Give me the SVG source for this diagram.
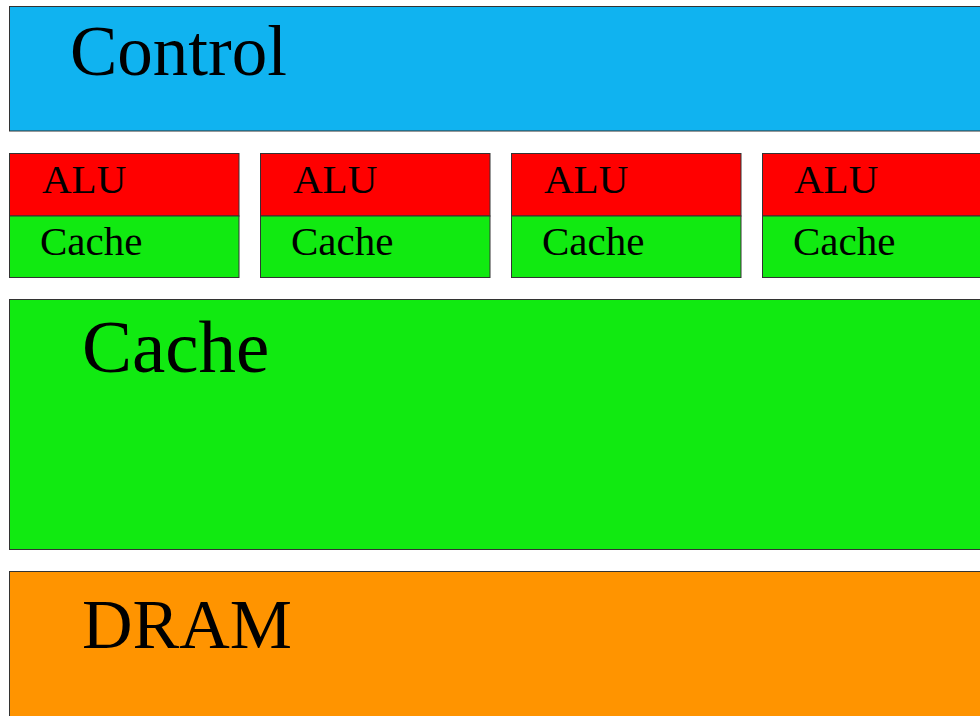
<svg xmlns="http://www.w3.org/2000/svg" width="980" height="716" viewBox="0 0 980 716">
  <style>
    .box { stroke: #333; stroke-width: 1; }
    text { font-family: "Liberation Serif", "DejaVu Serif", serif; fill: #000; }
    .ctl { fill: #10b3f0; }
    .alu { fill: #ff0000; }
    .cache { fill: #11ea11; }
    .dram { fill: #ff9400; }
    .small { font-size: 41px; }
  </style>
  <rect width="980" height="716" fill="#fff"/>

  <g id="control">
    <rect class="box ctl" x="9.5" y="6.5" width="1000" height="124.5"/>
    <text x="70" y="75" font-size="71">Control</text>
  </g>

  <g id="core1">
    <rect class="box alu" x="9.5" y="153.5" width="229.5" height="62.5"/>
    <rect class="box cache" x="9.5" y="216" width="229.5" height="61.5"/>
    <text class="small" x="42" y="193">ALU</text>
    <text class="small" x="40" y="255">Cache</text>
  </g>
  <g id="core2">
    <rect class="box alu" x="260.5" y="153.5" width="229.5" height="62.5"/>
    <rect class="box cache" x="260.5" y="216" width="229.5" height="61.5"/>
    <text class="small" x="293" y="193">ALU</text>
    <text class="small" x="291" y="255">Cache</text>
  </g>
  <g id="core3">
    <rect class="box alu" x="511.5" y="153.5" width="229.5" height="62.5"/>
    <rect class="box cache" x="511.5" y="216" width="229.5" height="61.5"/>
    <text class="small" x="544" y="193">ALU</text>
    <text class="small" x="542" y="255">Cache</text>
  </g>
  <g id="core4">
    <rect class="box alu" x="762.5" y="153.5" width="229.5" height="62.5"/>
    <rect class="box cache" x="762.5" y="216" width="229.5" height="61.5"/>
    <text class="small" x="794" y="193">ALU</text>
    <text class="small" x="793" y="255">Cache</text>
  </g>

  <g id="shared-cache">
    <rect class="box cache" x="9.5" y="299.5" width="1000" height="250"/>
    <text x="82" y="372" font-size="75">Cache</text>
  </g>

  <g id="dram">
    <rect class="box dram" x="9.5" y="571.5" width="1000" height="160"/>
    <text x="82" y="648" font-size="70">DRAM</text>
  </g>

  <g id="connectors"/>
</svg>
